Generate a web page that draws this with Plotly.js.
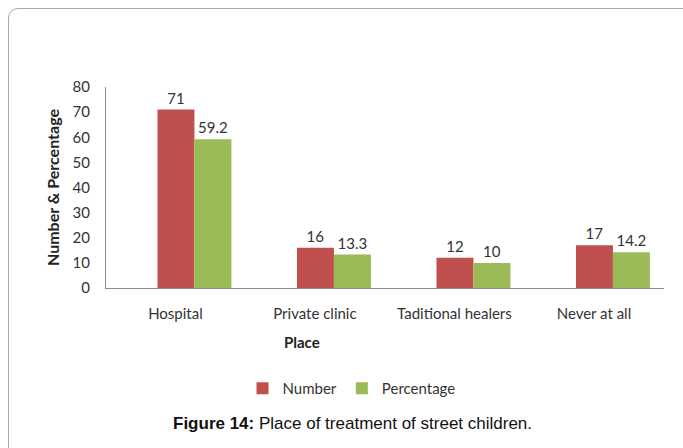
<!DOCTYPE html>
<html><head><meta charset="utf-8">
<script src="https://cdn.plot.ly/plotly-3.0.1.min.js"></script>
<style>
html,body{margin:0;padding:0;background:#fff;overflow:hidden}
#frame{position:absolute;left:8px;top:8px;width:720px;height:480px;border:1px solid #a8a8a8;border-radius:10px;box-sizing:border-box;pointer-events:none}
#chart{position:absolute;left:0;top:0;width:683px;height:448px}
</style></head>
<body>
<div id="chart"></div>
<div id="frame"></div>
<script>
const categories = ["Hospital", "Private clinic", "Taditional healers", "Never at all"];
const numberValues = [71, 16, 12, 17];
const percentageValues = [59.2, 13.3, 10, 14.2];
const yTicks = [0, 10, 20, 30, 40, 50, 60, 70, 80];

const font = "Lato, 'Open Sans', sans-serif";
const traces = [
  {type: "bar", name: "Number", x: categories, y: numberValues,
   marker: {color: "#C0504D"}, text: numberValues.map(String), textposition: "outside",
   textfont: {family: font, size: 15, color: "#333"}, cliponaxis: false, hoverinfo: "skip"},
  {type: "bar", name: "Percentage", x: categories, y: percentageValues,
   marker: {color: "#9BBB59"}, text: percentageValues.map(String), textposition: "outside",
   textfont: {family: font, size: 15, color: "#333"}, cliponaxis: false, hoverinfo: "skip"}
];
const layout = {
  width: 683, height: 448,
  margin: {l: 106, r: 19, t: 87, b: 160},
  paper_bgcolor: "rgba(0,0,0,0)", plot_bgcolor: "rgba(0,0,0,0)",
  barmode: "group", bargap: 0.47, bargroupgap: 0,
  showlegend: true,
  legend: {orientation: "h", x: 0.44, xanchor: "center", y: -0.5, yanchor: "middle",
           font: {family: font, size: 15, color: "#333"}, traceorder: "normal",
           itemwidth: 30, tracegroupgap: 0},
  xaxis: {type: "category", range: [-0.634, 3.366], showline: true, linecolor: "#8c8c8c", linewidth: 1,
          ticks: "", showgrid: false, zeroline: false, fixedrange: true,
          ticklabelshift: -19, ticklabelstandoff: 12,
          tickfont: {family: font, size: 15, color: "#333"}},
  yaxis: {range: [0, 80], tickmode: "array", tickvals: yTicks, showline: true, linecolor: "#8c8c8c",
          linewidth: 1, ticks: "", showgrid: false, zeroline: false, fixedrange: true,
          ticklabelstandoff: 12,
          tickfont: {family: font, size: 15, color: "#333"},
          title: {text: "<b>Number &amp; Percentage</b>", font: {family: font, size: 16, color: "#222"}, standoff: 8}},
  annotations: [
    {text: "<b>Place</b>", xref: "paper", yref: "paper", x: (302 - 106) / (683 - 106 - 19), y: -0.27,
     xanchor: "center", yanchor: "middle", showarrow: false, font: {family: font, size: 15, color: "#222"}},
    {text: "<b>Figure 14:</b> Place of treatment of street children.", xref: "paper", yref: "paper",
     x: (352 - 106) / (683 - 106 - 19), y: -0.675, xanchor: "center", yanchor: "middle", showarrow: false,
     font: {family: "'Liberation Sans', Arial, sans-serif", size: 17, color: "#111"}}
  ]
};
Plotly.newPlot("chart", traces, layout, {displayModeBar: false, staticPlot: true});
</script>
</body></html>
